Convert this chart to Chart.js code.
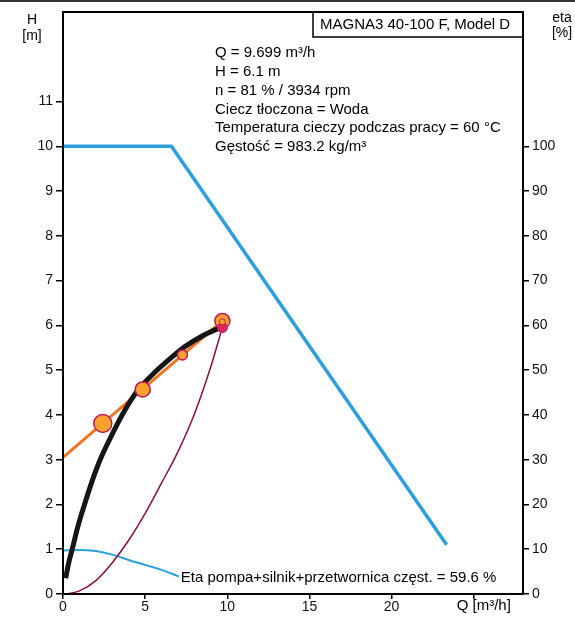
<!DOCTYPE html>
<html>
<head>
<meta charset="utf-8">
<script src="https://cdn.jsdelivr.net/npm/chart.js@4.4.0/dist/chart.umd.min.js"></script>
<style>
  body { margin: 0; background: #fff; }
  #wrap { width: 575px; height: 617px; position: relative; }
</style>
</head>
<body>
<div id="wrap"><canvas id="cnvs_pump" width="575" height="617"></canvas></div>
<script>
// ---- values ----
const xTicks = [0, 5, 10, 15, 20, 25];
const hTicks = [0, 1, 2, 3, 4, 5, 6, 7, 8, 9, 10, 11];
const etaTicks = [0, 10, 20, 30, 40, 50, 60, 70, 80, 90, 100];

// max curve (limit)
const limitQ = [0, 6.6, 23.35];
const limitH = [10, 10, 1.1];

// QH curve at 81 %
const qhQ = [0.16, 0.35, 0.56, 0.9, 1.31, 1.75, 2.26, 2.9, 3.6, 4.55, 5.5, 6.5, 7.4, 8.5, 9.699];
const qhH = [0.35, 0.7, 1.0, 1.5, 2.0, 2.5, 3.0, 3.5, 4.0, 4.55, 4.92, 5.25, 5.52, 5.77, 5.97];

// system curve + duty points
const sysQ = [0, 9.699];
const sysH = [3.05, 6.1];
const dutyQ = [2.42, 4.85, 7.27, 9.699];
const dutyH = [3.81, 4.57, 5.34, 6.1];

// thin dark red curve
const redQ = [0.2, 1, 2, 3, 4, 5, 6, 7, 8, 9, 9.699];
const redH = [0, 0.07, 0.3, 0.7, 1.2, 1.8, 2.48, 3.18, 4.02, 5.08, 5.95];

// eta curve [%]
const etaQ = [0, 1, 2, 3, 4, 5, 6, 7.05];
const etaV = [9.7, 9.85, 9.6, 8.8, 7.6, 6.5, 5.4, 3.9];

const infoLines = [
  'Q = 9.699 m³/h',
  'H = 6.1 m',
  'n = 81 % / 3934 rpm',
  'Ciecz tłoczona = Woda',
  'Temperatura cieczy podczas pracy = 60 °C',
  'Gęstość = 983.2 kg/m³'
];
const modelName = 'MAGNA3 40-100 F, Model D';
const etaLabel = 'Eta pompa+silnik+przetwornica częst. = 59.6 %';

const FONT = '"Liberation Sans", Arial, sans-serif';

function pts(xs, ys) {
  return xs.map(function (x, i) { return { x: x, y: ys[i] }; });
}

/**
 * frame, texts and labels drawn over the chart
 */
const sheetPlugin = {
  id: 'sheet',
  afterDraw(chart) {
    const ctx = chart.ctx;
    const a = chart.chartArea;
    const xs = chart.scales.x;
    ctx.save();
    // page edge at very top
    ctx.strokeStyle = '#333';
    ctx.lineWidth = 2;
    ctx.beginPath(); ctx.moveTo(0, 1); ctx.lineTo(575, 1); ctx.stroke();

    // plot frame
    ctx.strokeStyle = '#000';
    ctx.lineWidth = 2;
    ctx.strokeRect(a.left, a.top, a.right - a.left, a.bottom - a.top);

    // model box
    ctx.lineWidth = 1.5;
    ctx.strokeRect(313, a.top, a.right - 313, 25);
    ctx.fillStyle = '#000';
    ctx.font = '15px ' + FONT;
    ctx.textBaseline = 'middle';
    ctx.textAlign = 'left';
    ctx.fillText(modelName, 320, a.top + 13);

    // info block
    infoLines.forEach(function (t, i) {
      ctx.fillText(t, 215, 53 + i * 18.8);
    });

    // eta label at curve end
    const meta = chart.getDatasetMeta(1);
    const last = meta.data[meta.data.length - 1];
    ctx.fillText(etaLabel, last.x + 2, last.y + 1);

    // axis titles
    ctx.font = '14px ' + FONT;
    ctx.textAlign = 'center';
    ctx.fillText('H', 32, 20);
    ctx.fillText('[m]', 32, 36);
    ctx.fillText('eta', 562, 18);
    ctx.fillText('[%]', 562, 33);
    ctx.font = '15px ' + FONT;
    ctx.textAlign = 'left';
    ctx.fillText('Q [m³/h]', xs.getPixelForValue(25) - 17, 606);
    ctx.restore();
  }
};

const tickFont = { family: FONT, size: 14 };

new Chart(document.getElementById('cnvs_pump').getContext('2d'), {
  type: 'scatter',
  data: {
    datasets: [
      {
        label: 'limit', data: pts(limitQ, limitH), showLine: true, yAxisID: 'y',
        borderColor: '#2c9fdc', borderWidth: 3.5, pointRadius: 0, order: 7
      },
      {
        label: 'eta', data: pts(etaQ, etaV), showLine: true, yAxisID: 'y1',
        borderColor: '#2aa0dc', borderWidth: 2, pointRadius: 0, cubicInterpolationMode: 'monotone', order: 6
      },
      {
        label: 'p', data: pts(redQ, redH), showLine: true, yAxisID: 'y',
        borderColor: '#8a0f3c', borderWidth: 1.5, pointRadius: 0, cubicInterpolationMode: 'monotone', order: 5
      },
      {
        label: 'system', data: pts(sysQ, sysH), showLine: true, yAxisID: 'y',
        borderColor: '#f0731e', borderWidth: 3, pointRadius: 0, order: 4
      },
      {
        label: 'QH', data: pts(qhQ, qhH), showLine: true, yAxisID: 'y',
        borderColor: '#161616', borderWidth: 5, pointRadius: 0, cubicInterpolationMode: 'monotone', order: 3
      },
      {
        label: 'duty', data: pts(dutyQ, dutyH), showLine: false, yAxisID: 'y',
        backgroundColor: '#f9a12e', borderColor: '#c2185b', borderWidth: 1.5,
        pointRadius: [9, 7.5, 5, 7.5], pointHoverRadius: [9, 7.5, 5, 7.5], order: 2
      },
      {
        label: 'op', data: pts([9.699], [5.95]), showLine: false, yAxisID: 'y',
        backgroundColor: '#e0245e', borderColor: '#c2185b', borderWidth: 1,
        pointRadius: 5, order: 1
      },
      {
        label: 'op2', data: pts([9.699], [6.08]), showLine: false, yAxisID: 'y',
        backgroundColor: '#f9a12e', borderColor: '#c2185b', borderWidth: 1,
        pointRadius: 3, order: 0
      }
    ]
  },
  options: {
    responsive: false,
    animation: false,
    events: [],
    layout: { padding: { top: 12, left: 0, right: 0, bottom: 0 } },
    plugins: { legend: { display: false }, tooltip: { enabled: false } },
    scales: {
      x: {
        type: 'linear', min: 0, max: 28,
        afterBuildTicks: function (s) { s.ticks = xTicks.map(function (v) { return { value: v }; }); },
        afterFit: function (s) { s.height = 23; },
        border: { display: false },
        grid: { drawOnChartArea: false, drawTicks: true, tickLength: 5, color: '#000', lineWidth: 1.5 },
        ticks: {
          color: '#111', font: tickFont, padding: 0, maxRotation: 0,
          callback: function (v) { return v === 25 ? '' : v; }
        }
      },
      y: {
        type: 'linear', position: 'left', min: 0, max: 13,
        afterBuildTicks: function (s) { s.ticks = hTicks.map(function (v) { return { value: v }; }); },
        afterFit: function (s) { s.width = 63; },
        border: { display: false },
        grid: { drawOnChartArea: false, drawTicks: true, tickLength: 7, color: '#000', lineWidth: 1.5 },
        ticks: { color: '#111', font: tickFont, padding: 3 }
      },
      y1: {
        type: 'linear', position: 'right', min: 0, max: 130,
        afterBuildTicks: function (s) { s.ticks = etaTicks.map(function (v) { return { value: v }; }); },
        afterFit: function (s) { s.width = 52; },
        border: { display: false },
        grid: { drawOnChartArea: false, drawTicks: true, tickLength: 6, color: '#000', lineWidth: 1.5 },
        ticks: { color: '#111', font: tickFont, padding: 3 }
      }
    }
  },
  plugins: [sheetPlugin]
});
</script>
</body>
</html>
